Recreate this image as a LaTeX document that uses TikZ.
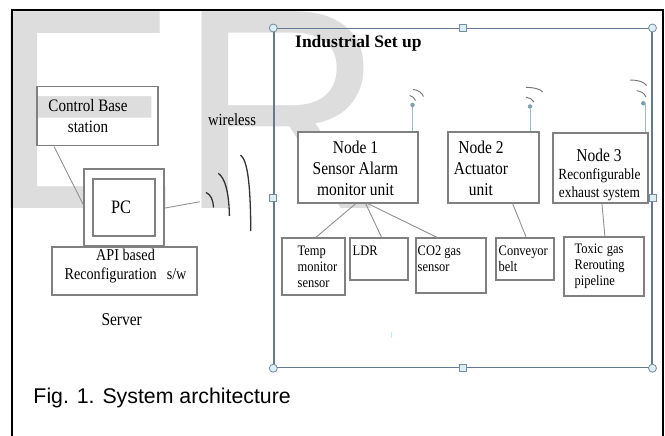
\documentclass[tikz,border=0pt]{standalone}
\usepackage{fontspec}
\setmainfont{Liberation Serif}[FakeStretch=0.86]
\newfontfamily\titlefont{Liberation Serif}
\newfontfamily\capfont{Liberation Sans}
\usetikzlibrary{calc}
\newcommand\setfs[2]{\fontsize{#1}{#2}\selectfont}
\definecolor{wmgray}{RGB}{221,221,221}
\definecolor{boxgray}{RGB}{128,128,128}
\definecolor{linkgray}{RGB}{145,145,145}
\definecolor{frameblue}{RGB}{100,122,148}
\definecolor{handlefill}{RGB}{218,238,243}
\definecolor{handledraw}{RGB}{120,140,160}
\definecolor{antenna}{RGB}{150,190,198}
\definecolor{antdot}{RGB}{125,162,170}
\tikzset{
  x=1pt, y=-1pt,
  box/.style={draw=boxgray, line width=1.8pt, fill=white, rectangle,
    inner sep=0pt, anchor=north west},
  txt/.style={inner sep=0pt, align=center},
  ltxt/.style={inner sep=0pt, align=left, anchor=west},
  link/.style={draw=linkgray, line width=0.9pt},
  wave/.style={draw=black!80, line width=1.3pt},
  sigarc/.style={draw=black!55, line width=0.9pt},
  antline/.style={draw=antenna, line width=1pt},
  antdotstyle/.style={circle, fill=antdot, inner sep=0pt, minimum size=4.5pt},
  hcirc/.style={circle, draw=handledraw, fill=handlefill, line width=0.8pt,
    inner sep=0pt, minimum size=8pt},
  hsq/.style={rectangle, draw=handledraw, fill=handlefill, line width=0.8pt,
    inner sep=0pt, minimum size=7pt},
}
\begin{document}
\begin{tikzpicture}
\useasboundingbox (0,0) rectangle (665,436);
\clip (0,0) rectangle (665,436);
\fill[white] (0,0) rectangle (665,436);

% faint background lettering
\node[anchor=base west, inner sep=0pt, text=wmgray,
      font=\capfont\setfs{286}{286}] (wm) at (-12.6,208) {ER};

% outer frame
\draw[black, line width=1.8pt] (12,445) -- (12,10) -- (662.7,10) -- (662.7,445);

% ---------------- server side ----------------
\node[box, fill=none, line width=1.5pt, minimum width=121pt, minimum height=59pt]
  (ctl) at (36,86) {};
\node[txt, font=\setfs{17.5}{21}] (ctlt) at (88,116.5) {Control Base\\station};

\node[box, line width=1.6pt, minimum width=80pt, minimum height=77pt] (pco) at (83,168) {};
\node[box, line width=1.8pt, minimum width=62pt, minimum height=56.7pt] (pci) at (92.3,178.3) {};
\node[txt, font=\setfs{19}{22}] (pct) at (121,207) {PC};

\node[box, line width=1.6pt, minimum width=145pt, minimum height=48pt] (api) at (51,246) {};
\node[txt, font=\setfs{16.5}{19.5}] (apit) at (125.5,266.3)
  {API based\\Reconfiguration\hspace{10pt}s/w};
\node[txt, font=\setfs{18}{20}] (srv) at (121.7,319.3) {Server};

\node[txt, font=\setfs{17}{20}] (wl) at (232,120) {wireless};

% server connections
\draw[link] ([xshift=18pt]ctl.south west) -- ([yshift=3.2pt]pco.west);
\coordinate (wlend) at (200,201.7);
\draw[link] ([yshift=-0.8pt]pco.east) -- (wlend);

% radio waves
\draw[wave] (206,192.5) .. controls (210.5,194.5) and (213,199) .. (213.5,207.5);
\draw[wave] (218.3,173.3) .. controls (225,178) and (229,192) .. (229.4,216);
\draw[wave] (240.5,155) .. controls (247,160) and (250.5,180) .. (250.8,231);

% ---------------- industrial side ----------------
\node[rectangle, draw=frameblue, line width=1.5pt, inner sep=0pt, anchor=north west,
      minimum width=377.7pt, minimum height=338.7pt] (ind) at (273.3,28) {};
\node[anchor=base west, inner sep=0pt, font=\titlefont\bfseries\setfs{17.5}{20}]
  (indt) at (295,48) {Industrial Set up};

% nodes
\node[box, minimum width=120pt, minimum height=70.7pt] (n1) at (296.7,131) {};
\node[txt, font=\setfs{18}{21.2}] (n1t) at (355.5,168.5) {Node 1\\Sensor Alarm\\monitor unit};

\node[box, minimum width=91pt, minimum height=70.7pt] (n2) at (446.7,131) {};
\node[txt, font=\setfs{18}{21}] (n2t) at (481,168.5) {Node 2\\Actuator\\unit};

\node[box, minimum width=94.7pt, minimum height=70pt] (n3) at (552,132) {};
\node[txt, font=\setfs{18}{20}] (n3a) at (599,155.5) {Node 3};
\node[txt, font=\setfs{15.5}{18.5}] (n3b) at (599.5,184.5) {Reconfigurable\\exhaust system};

% devices
\node[box, minimum width=63pt, minimum height=57pt] (temp) at (281,237.3) {};
\node[ltxt, font=\setfs{14.5}{16}] (tempt) at (297.5,266.5) {Temp\\monitor\\sensor};

\node[box, minimum width=57.4pt, minimum height=41.4pt] (ldr) at (349.3,237.3) {};
\node[ltxt, font=\setfs{14.5}{16}] (ldrt) at (352.5,250.5) {LDR};

\node[box, minimum width=70pt, minimum height=54.7pt] (co2) at (415,237.3) {};
\node[ltxt, font=\setfs{14.5}{16}] (co2t) at (417.5,258.5) {CO2 gas\\sensor};

\node[box, minimum width=57.7pt, minimum height=42pt] (conv) at (495,236.7) {};
\node[ltxt, font=\setfs{14.5}{16}] (convt) at (498.5,258.5) {Conveyor\\belt};

\node[box, minimum width=80pt, minimum height=59pt] (tox) at (563.3,236) {};
\node[ltxt, font=\setfs{14.5}{16}] (toxt) at (574.5,266.5) {Toxic\hspace{4pt}gas\\Rerouting\\pipeline};

% node to device links
\draw[link] ([xshift=-1.7pt]n1.south) -- ([xshift=2.5pt]temp.north);
\draw[link] ([xshift=8pt]n1.south) -- ([xshift=2.7pt]ldr.north);
\draw[link] ([xshift=10pt]n1.south) -- ([xshift=-14pt]co2.north);
\draw[link] ([xshift=19.5pt]n2.south) -- ([xshift=1.2pt]conv.north);
\draw[link] ([xshift=1.7pt]n3.south) -- ([xshift=0.7pt]tox.north);

% antennas
\node[antdotstyle] (a1) at (412.5,105) {};
\node[antdotstyle] (a2) at (530,106.5) {};
\node[antdotstyle] (a3) at (643.3,103.3) {};
\draw[antline] (a1) -- (a1 |- n1.north);
\draw[antline] (a2) -- (a2 |- n2.north);
\draw[antline] ([xshift=2pt]a3.center) -- ([xshift=2pt]a3 |- n3.north);

\draw[sigarc] (413,89.5) .. controls (418,90) and (422,92.5) .. (423.5,96.5);
\draw[sigarc] (409.5,95.5) .. controls (412,96) and (414.5,98) .. (415.5,100.5);
\draw[sigarc] (526,87.3) .. controls (533,87.5) and (540,88.5) .. (542.7,92);
\draw[sigarc] (526,97.3) .. controls (529,97.5) and (532.5,99) .. (534,102);
\draw[sigarc] (630,80) .. controls (637,80) and (644,81.5) .. (646.7,85.5);
\draw[sigarc] (636.7,90.7) .. controls (640,91) and (644.5,93) .. (646,97);

% selection handles of the frame
\foreach \a [count=\i] in {north west, north east, south west, south east}
  \node[hcirc] (hc\i) at (ind.\a) {};
\foreach \a [count=\i] in {north, south, east, west}
  \node[hsq] (hs\i) at (ind.\a) {};

\draw[cyan!25, line width=1pt] (391,332) -- (391,337.5);

% caption
\node[anchor=base west, inner sep=0pt, font=\capfont\setfs{21.3}{24}] (cap)
  at (33.3,403) {Fig. 1. System architecture};
\end{tikzpicture}
\end{document}
